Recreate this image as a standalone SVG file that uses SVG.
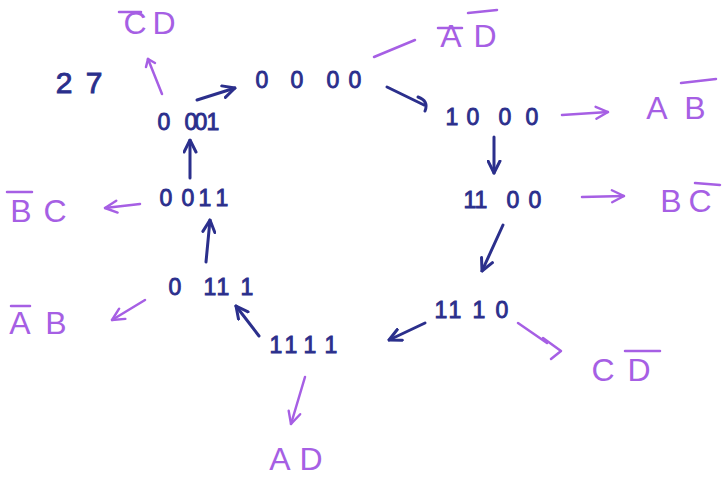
<svg xmlns="http://www.w3.org/2000/svg" width="722" height="479" viewBox="0 0 722 479">
<style>
.st{font-family:"Liberation Sans",Arial,sans-serif;font-size:23px;fill:#2b2f8c;stroke:#2b2f8c;stroke-width:0.9;text-anchor:middle}
.lb{font-family:"Liberation Sans",Arial,sans-serif;font-size:32px;fill:#a65fe4;text-anchor:middle}
.ol{stroke:#a65fe4;stroke-width:2.5;stroke-linecap:round}
.cb{fill:none;stroke:#2b2f8c;stroke-width:3;stroke-linecap:round;stroke-linejoin:round}
.cp{fill:none;stroke:#a65fe4;stroke-width:2.5;stroke-linecap:round;stroke-linejoin:round}
</style>
<defs>
<marker id="ab" viewBox="0 0 10 10" refX="9" refY="5" markerWidth="5" markerHeight="5" orient="auto" markerUnits="strokeWidth">
<polyline points="1,1 9,5 1,9" fill="none" stroke="#2b2f8c" stroke-width="2" stroke-linecap="round" stroke-linejoin="round"/>
</marker>
<marker id="ap" viewBox="0 0 10 10" refX="9" refY="5" markerWidth="6" markerHeight="6" orient="auto" markerUnits="strokeWidth">
<polyline points="1,1 9,5 1,9" fill="none" stroke="#a65fe4" stroke-width="1.6" stroke-linecap="round" stroke-linejoin="round"/>
</marker>
</defs>
<rect width="722" height="479" fill="#ffffff"/>

<g id="n27"><text class="st" x="64 94" y="93" style="font-size:30px">27</text></g>
<g id="n0000"><text class="st" x="262 297 333 355" y="88">0000</text></g>
<g id="n1000"><text class="st" x="452 473 505 532" y="125">1000</text></g>
<g id="n1100"><text class="st" x="470 481 513 535" y="208">1100</text></g>
<g id="n1110"><text class="st" x="441 455 479 502" y="318">1110</text></g>
<g id="n1111"><text class="st" x="276 291 310 331" y="353">1111</text></g>
<g id="n0111"><text class="st" x="175 210 223 247" y="295">0111</text></g>
<g id="n0011"><text class="st" x="166 188 205 222" y="206">0011</text></g>
<g id="n0001"><text class="st" x="164 191 201 213" y="130">0001</text></g>

<g id="lCbarD"><text class="lb" x="135 164" y="34">CD</text><line class="ol" x1="119" y1="12" x2="141" y2="12"/></g>
<g id="lAbarDbar"><text class="lb" x="451 485" y="47">AD</text><line class="ol" x1="438" y1="28" x2="462" y2="28"/><line class="ol" x1="468" y1="13" x2="497" y2="10"/></g>
<g id="lABbar"><text class="lb" x="657 695" y="119">AB</text><line class="ol" x1="681" y1="83" x2="716" y2="79"/></g>
<g id="lBCbar"><text class="lb" x="671 700" y="212">BC</text><line class="ol" x1="695" y1="183" x2="720" y2="185"/></g>
<g id="lBbarC"><text class="lb" x="21 55" y="222">BC</text><line class="ol" x1="7" y1="192" x2="32" y2="192"/></g>
<g id="lAbarB"><text class="lb" x="20 56" y="334">AB</text><line class="ol" x1="11" y1="306" x2="30" y2="306"/></g>
<g id="lCDbar"><text class="lb" x="603 639" y="381">CD</text><line class="ol" x1="625" y1="351" x2="660" y2="351"/></g>
<g id="lAD"><text class="lb" x="280 311" y="470">AD</text></g>

<g id="connectors">
<line class="cb" x1="197" y1="100" x2="235" y2="88" marker-end="url(#ab)"/>
<path class="cb" d="M387 87 L424 105"/>
<path class="cb" d="M418 97 Q429 101 425 111"/>
<line class="cb" x1="494" y1="137" x2="494" y2="173" marker-end="url(#ab)"/>
<line class="cb" x1="503" y1="225" x2="482" y2="271" marker-end="url(#ab)"/>
<line class="cb" x1="425" y1="323" x2="389" y2="340" marker-end="url(#ab)"/>
<line class="cb" x1="259" y1="336" x2="236" y2="306" marker-end="url(#ab)"/>
<line class="cb" x1="206" y1="262" x2="210" y2="220" marker-end="url(#ab)"/>
<line class="cb" x1="190" y1="178" x2="190" y2="140" marker-end="url(#ab)"/>

<line class="cp" x1="162" y1="94" x2="148" y2="59"/>
<line class="cp" x1="148" y1="59" x2="155" y2="63"/>
<line class="cp" x1="148" y1="59" x2="146" y2="67"/>
<line class="cp" x1="374" y1="57" x2="415" y2="40"/>
<line class="cp" x1="562" y1="115" x2="608" y2="112" marker-end="url(#ap)"/>
<line class="cp" x1="582" y1="197" x2="624" y2="196" marker-end="url(#ap)"/>
<line class="cp" x1="140" y1="204" x2="105" y2="208" marker-end="url(#ap)"/>
<line class="cp" x1="145" y1="300" x2="112" y2="320" marker-end="url(#ap)"/>
<path class="cp" d="M518 323 L547 343"/>
<path class="cp" d="M543 338 L561 351 L551 359"/>
<line class="cp" x1="305" y1="377" x2="291" y2="424" marker-end="url(#ap)"/>
</g>
</svg>
